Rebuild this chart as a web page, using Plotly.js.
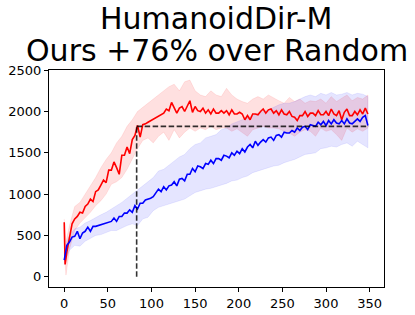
<!DOCTYPE html>
<html>
<head>
<meta charset="utf-8">
<script src="https://cdn.plot.ly/plotly-3.0.1.min.js"></script>
<style>html,body{margin:0;padding:0;background:#fff;}#chart{width:415px;height:315px;}</style>
</head>
<body>
<div id="chart"></div>
<script>
// ---- data ----
const stepsX = [0,1,3,6,9,12,15,18,21,24,27,30,33,36,39,42,45,48,51,54,57,60,63,66,69,72,75,78,81,84,87,90,93,96,99,102,105,108,111,114,117,120,123,126,129,132,135,138,141,144,147,150,153,156,159,162,165,168,171,174,177,180,183,186,189,192,195,198,201,204,207,210,213,216,219,222,225,228,231,234,237,240,243,246,249,252,255,258,261,264,267,270,273,276,279,282,285,288,291,294,297,300,303,306,309,312,315,318,321,324,327,330,333,336,339,342,345,348];

const oursMean = [660,150,300,480,640,700,730,780,770,850,880,940,910,1030,1050,1110,1170,1140,1290,1290,1390,1320,1240,1470,1470,1570,1490,1660,1710,1830,1690,1840,1850,1870,1890,1910,1920,1940,1960,1980,2030,2010,2110,2050,1980,2040,2060,2000,2060,2130,1990,2060,2010,2000,2040,1980,2020,1970,2030,1980,1980,2010,1980,2010,1960,2020,1970,1970,1990,1970,1900,1950,1900,1970,1970,1960,2000,2030,1980,2020,2030,1980,2010,1960,2020,1970,1960,2000,1940,1930,1890,1950,1950,2000,1940,1980,1980,1950,2010,1960,1960,2000,1950,2030,1970,1950,2010,1900,1990,2030,1950,1950,2000,1960,2020,1970,2040,1970];

const randomMean = [200,260,380,420,480,490,550,460,530,550,600,550,610,610,620,630,640,650,660,670,710,670,730,730,770,770,810,780,860,820,890,890,930,940,950,970,1010,1060,1030,1090,1050,1100,1110,1150,1100,1180,1190,1160,1240,1240,1310,1270,1340,1330,1310,1370,1360,1410,1370,1430,1430,1410,1470,1460,1440,1500,1470,1520,1490,1550,1510,1570,1600,1560,1640,1590,1630,1660,1630,1680,1690,1650,1710,1720,1690,1750,1740,1740,1770,1750,1800,1770,1810,1820,1780,1840,1830,1820,1870,1840,1880,1830,1890,1850,1900,1860,1850,1890,1850,1910,1860,1850,1880,1910,1880,1930,1950,1830];

const bandX = [0,2,6,12,18,24,30,36,42,48,54,60,66,72,78,84,90,96,102,108,114,120,126,132,138,144,150,156,162,168,174,180,186,192,198,204,210,216,222,228,234,240,246,252,258,264,270,276,282,288,294,300,306,312,318,324,330,336,342,348];

const oursUpper = [700,420,620,850,900,1000,1100,1200,1320,1420,1500,1620,1700,1820,1900,2000,2050,2100,2150,2200,2250,2300,2330,2250,2360,2380,2250,2200,2180,2250,2200,2180,2280,2200,2150,2120,2100,2150,2180,2150,2200,2160,2130,2100,2170,2120,2150,2100,2130,2120,2150,2100,2180,2120,2160,2200,2130,2170,2150,2200];
const oursLower = [300,20,330,560,650,720,780,860,920,1000,1120,1150,1200,1300,1420,1550,1650,1680,1620,1700,1750,1650,1780,1680,1750,1800,1760,1800,1780,1820,1780,1800,1800,1760,1790,1750,1700,1780,1800,1820,1800,1800,1790,1760,1740,1700,1750,1780,1760,1700,1800,1760,1780,1720,1650,1800,1750,1790,1760,1800];

const randomUpper = [300,400,500,580,600,650,680,720,750,780,820,850,900,950,1000,1040,1100,1150,1200,1280,1300,1350,1400,1450,1480,1550,1600,1620,1680,1700,1720,1780,1800,1850,1880,1900,1920,1950,1980,2000,2020,2050,2080,2100,2100,2120,2150,2180,2200,2180,2220,2200,2230,2200,2210,2230,2200,2220,2210,2180];
const randomLower = [150,200,320,380,370,430,460,500,510,530,560,560,590,620,640,620,700,720,800,840,860,880,900,920,940,980,1020,1040,1060,1070,1090,1110,1130,1160,1170,1200,1220,1260,1280,1300,1320,1340,1350,1380,1400,1420,1450,1480,1490,1500,1550,1560,1580,1570,1600,1620,1580,1640,1600,1560];

const matchStep = 83;      // step where Ours reaches Random's final return
const matchReturn = 1820;  // Random's final return level
const lastStep = 349;

const xTicks = [0,50,100,150,200,250,300,350];
const yTicks = [0,500,1000,1500,2000,2500];
const titleLines = ['HumanoidDir-M', 'Ours +76% over Random'];

// ---- traces ----
function band(x, up, lo, fill, edge) {
  return {
    x: x.concat(x.slice().reverse()),
    y: up.concat(lo.slice().reverse()),
    type: 'scatter', mode: 'lines', fill: 'toself',
    fillcolor: fill, line: {color: edge, width: 0.6},
    hoverinfo: 'skip', showlegend: false
  };
}
const traces = [
  band(bandX, oursUpper, oursLower, 'rgba(255,0,0,0.12)', 'rgba(255,0,0,0.15)'),
  band(bandX, randomUpper, randomLower, 'rgba(0,0,255,0.10)', 'rgba(0,0,255,0.13)'),
  {x: stepsX, y: oursMean, type: 'scatter', mode: 'lines', line: {color: '#ff0000', width: 1.6}, showlegend: false},
  {x: stepsX, y: randomMean, type: 'scatter', mode: 'lines', line: {color: '#0000ff', width: 1.6}, showlegend: false},
  {x: [matchStep, lastStep], y: [matchReturn, matchReturn], type: 'scatter', mode: 'lines',
   line: {color: 'rgba(0,0,0,0.8)', width: 1.6, dash: '5.5px,2.5px'}, showlegend: false},
  {x: [matchStep, matchStep], y: [0, matchReturn], type: 'scatter', mode: 'lines',
   line: {color: 'rgba(0,0,0,0.8)', width: 1.6, dash: '5.5px,2.5px'}, showlegend: false}
];

const fontFam = 'DejaVu Sans, sans-serif';
const layout = {
  width: 415, height: 315,
  margin: {l: 49, r: 31, t: 70, b: 28, pad: 0},
  paper_bgcolor: '#fff', plot_bgcolor: '#fff',
  showlegend: false,
  font: {family: fontFam, size: 13, color: '#000'},
  xaxis: {
    range: [-17.45, 366.45], tickvals: xTicks, ticktext: xTicks.map(String),
    showgrid: false, zeroline: false, showline: true, mirror: true,
    linecolor: '#000', linewidth: 1, ticks: 'outside', ticklen: 4, tickcolor: '#000',
    tickfont: {family: fontFam, size: 13, color: '#000'}
  },
  yaxis: {
    range: [-124, 2502], tickvals: yTicks, ticktext: yTicks.map(String),
    showgrid: false, zeroline: false, showline: true, mirror: true,
    linecolor: '#000', linewidth: 1, ticks: 'outside', ticklen: 4, tickcolor: '#000',
    tickfont: {family: fontFam, size: 13, color: '#000'}
  },
  annotations: [
    {text: titleLines[0], xref: 'paper', yref: 'paper', x: 0.5, y: 1.236, xanchor: 'center', yanchor: 'middle',
     showarrow: false, font: {family: fontFam, size: 30, color: '#000'}},
    {text: titleLines[1], xref: 'paper', yref: 'paper', x: 0.5, y: 1.088, xanchor: 'center', yanchor: 'middle',
     showarrow: false, font: {family: fontFam, size: 30, color: '#000'}}
  ]
};

Plotly.newPlot('chart', traces, layout, {staticPlot: true, displayModeBar: false});
</script>
</body>
</html>
